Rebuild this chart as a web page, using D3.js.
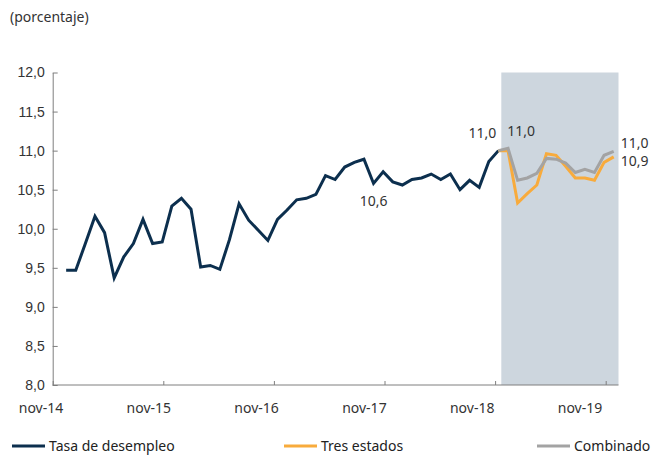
<!DOCTYPE html>
<html>
<head>
<meta charset="utf-8">
<script src="https://cdn.jsdelivr.net/npm/d3@7/dist/d3.min.js"></script>
<style>
  html, body { margin: 0; padding: 0; background: #fff; }
  svg { display: block; font-family: "Noto Sans", "Open Sans", sans-serif; }
</style>
</head>
<body>
<svg id="chart" width="652" height="455"></svg>
<script>
// Monthly unemployment rate (percent), observed series
const desempleo = [
  9.47, 9.47, 9.81, 10.16, 9.95, 9.37, 9.64, 9.81, 10.12, 9.81,
  9.83, 10.29, 10.39, 10.25, 9.51, 9.53, 9.48, 9.86, 10.32, 10.11,
  9.98, 9.85, 10.12, 10.24, 10.37, 10.39, 10.44, 10.68, 10.63, 10.79,
  10.85, 10.89, 10.58, 10.73, 10.60, 10.56, 10.63, 10.65, 10.70, 10.63,
  10.70, 10.50, 10.62, 10.53, 10.86, 11.00
];
// Alternative estimates, starting at the last observed month
const tresEstados = [11.00, 11.00, 10.33, 10.45, 10.56, 10.96, 10.94, 10.80, 10.65, 10.65, 10.62, 10.85, 10.92];
const combinado   = [11.00, 11.03, 10.62, 10.65, 10.71, 10.90, 10.89, 10.84, 10.72, 10.76, 10.72, 10.94, 10.99];
const xLabels = ["nov-14", "nov-15", "nov-16", "nov-17", "nov-18", "nov-19"];
const yTicks = [8.0, 8.5, 9.0, 9.5, 10.0, 10.5, 11.0, 11.5, 12.0];
const legendItems = ["Tasa de desempleo", "Tres estados", "Combinado"];

const colors = { desempleo: "#0c2f4e", tres: "#f8ab3c", comb: "#a3a3a3" };
const startProj = desempleo.length - 1;

const svg = d3.select("#chart");
const x = d3.scaleLinear().domain([-1.4, 57.5]).range([52.7, 618.5]);
const y = d3.scaleLinear().domain([8, 12]).range([385, 72.5]);
const xTickPos = d3.scalePoint().domain(xLabels).range([52.7, 605.7]);
const xLabelPos = d3.scalePoint().domain(xLabels).range([41, 580]);

const es = d3.formatLocale({ decimal: ",", thousands: ".", grouping: [3], currency: ["", ""] });
const f1 = es.format(".1f");

// Shaded estimation window
svg.append("rect")
  .attr("x", x(startProj + 0.3))
  .attr("y", y(12))
  .attr("width", x.range()[1] - x(startProj + 0.3))
  .attr("height", y(8) - y(12))
  .attr("fill", "#cdd6de");

// Y axis
const yAxis = svg.append("g")
  .attr("transform", `translate(${x.range()[0]},0)`)
  .call(d3.axisLeft(y).tickValues(yTicks).tickFormat(f1).tickSize(-5).tickSizeOuter(0).tickPadding(8));
yAxis.select(".domain").attr("stroke", "#7f7f7f");
yAxis.selectAll(".tick line").attr("stroke", "#7f7f7f");
yAxis.selectAll(".tick text").attr("fill", "#333").style("font-size", "14px");

// X axis
const xAxis = svg.append("g")
  .attr("transform", `translate(0,${y(8)})`)
  .call(d3.axisBottom(xTickPos).tickSize(-4).tickSizeOuter(0).tickFormat(""));
xAxis.select(".domain").remove();
xAxis.append("line")
  .attr("x1", x.range()[0]).attr("x2", x.range()[1])
  .attr("stroke", "#7f7f7f");
xAxis.selectAll(".tick line").attr("stroke", "#7f7f7f");
svg.append("g").selectAll("text").data(xLabels).join("text")
  .attr("x", d => xLabelPos(d))
  .attr("y", y(8) + 28)
  .attr("text-anchor", "middle")
  .attr("fill", "#333")
  .style("font-size", "14px")
  .text(d => d);

// Unit label
svg.append("text")
  .attr("x", 10).attr("y", 22)
  .attr("fill", "#333")
  .style("font-size", "14px")
  .text("(porcentaje)");

// Lines
const line = d3.line().x(d => x(d.i)).y(d => y(d.v));
const toPts = (arr, off) => arr.map((v, k) => ({ i: k + off, v }));

svg.append("path").datum(toPts(desempleo, 0))
  .attr("d", line).attr("fill", "none")
  .attr("stroke", colors.desempleo).attr("stroke-width", 3).attr("stroke-linejoin", "miter");
svg.append("path").datum(toPts(tresEstados, startProj))
  .attr("d", line).attr("fill", "none")
  .attr("stroke", colors.tres).attr("stroke-width", 3);
svg.append("path").datum(toPts(combinado, startProj))
  .attr("d", line).attr("fill", "none")
  .attr("stroke", colors.comb).attr("stroke-width", 3);

// Value annotations
const ann = [
  { i: startProj, v: desempleo[startProj], dx: -16, dy: -13, anchor: "middle" },
  { i: 32, v: desempleo[32], dx: 0, dy: 23, anchor: "middle" },
  { i: startProj + 1, v: combinado[1], dx: 13, dy: -12, anchor: "middle" },
  { i: startProj + 12, v: combinado[12], dx: 7, dy: -3, anchor: "start" },
  { i: startProj + 12, v: tresEstados[12], dx: 7, dy: 9, anchor: "start" }
];
svg.append("g").selectAll("text").data(ann).join("text")
  .attr("x", d => x(d.i) + d.dx)
  .attr("y", d => y(d.v) + d.dy)
  .attr("text-anchor", d => d.anchor)
  .attr("fill", "#333")
  .style("font-size", "14px")
  .text(d => f1(d.v));

// Legend
const legendX = [12, 284, 537];
const legendColors = [colors.desempleo, colors.tres, colors.comb];
const lg = svg.append("g").selectAll("g").data(legendItems).join("g")
  .attr("transform", (d, k) => `translate(${legendX[k]},446)`);
lg.append("line").attr("x1", 0).attr("x2", 33)
  .attr("stroke", (d, k) => legendColors[k]).attr("stroke-width", 3);
lg.append("text").attr("x", 37).attr("y", 5)
  .attr("fill", "#222")
  .style("font-size", "14px")
  .text(d => d);
</script>
</body>
</html>
